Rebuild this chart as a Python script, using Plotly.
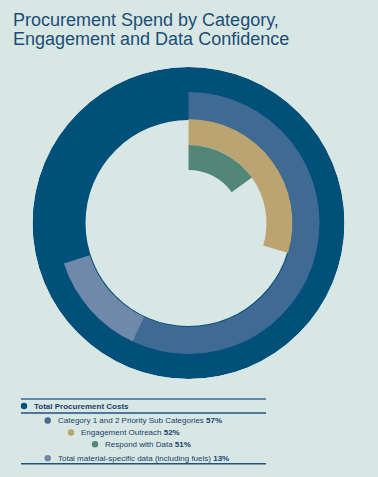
import plotly.graph_objects as go

W, H = 378, 477

# ---- data ----
total_label = "Total Procurement Costs"
total_value = 100
category_label = "Category 1 and 2 Priority Sub Categories"
category_pct = 57          # % of total
engagement_label = "Engagement Outreach"
engagement_pct = 52        # % of category
respond_label = "Respond with Data"
respond_pct = 51           # % of engagement
material_label = "Total material-specific data (including fuels)"
material_pct = 13          # % of total

# ---- styles ----
BG = "#d9e7e4"
C_TOTAL = "#01507a"
C_CAT = "#3e6a93"
C_ENG = "#bba472"
C_RESP = "#528677"
C_MAT = "#7089ab"
TXT = "#1a4e78"
LEG_TXT = "#17406a"
FONT = "Liberation Sans, Arial, sans-serif"

# derived angular spans (fractions of full circle)
cat_frac = category_pct / 100
eng_frac = cat_frac * engagement_pct / 100
resp_frac = eng_frac * respond_pct / 100
mat_frac = material_pct / 100

def deg(f):
    return f * 360

rings = [
    # label, start_frac, span_frac, base, height, color
    (total_label, 0, total_value / 100, 103, 53, C_TOTAL),
    (category_label, 0, cat_frac, 104, 27, C_CAT),
    (material_label, cat_frac, mat_frac, 104, 27, C_MAT),
    (engagement_label, 0, eng_frac, 78, 26, C_ENG),
    (respond_label, 0, resp_frac, 53, 25, C_RESP),
]

fig = go.Figure()
for name, start, span, base, h, col in rings:
    fig.add_trace(go.Barpolar(
        r=[h], base=[base], theta=[deg(start + span / 2)], width=[deg(span)],
        marker=dict(color=col, line=dict(width=0)), name=name,
        hoverinfo="name", showlegend=False,
    ))

cx, cy, R = 188.5, 223, 156
fig.update_layout(
    width=W, height=H, margin=dict(l=0, r=0, t=0, b=0),
    paper_bgcolor=BG, plot_bgcolor=BG,
    polar=dict(
        bgcolor=BG,
        domain=dict(x=[(cx - R) / W, (cx + R) / W],
                    y=[(H - cy - R) / H, (H - cy + R) / H]),
        radialaxis=dict(range=[0, R], visible=False, showgrid=False),
        angularaxis=dict(visible=False, showgrid=False, rotation=90,
                         direction="clockwise"),
        bargap=0,
    ),
    font=dict(family=FONT),
)

def px(x):
    return x / W

def py(y):
    return 1 - y / H

annotations = []
# title (two lines)
for i, line in enumerate(["Procurement Spend by Category,",
                          "Engagement and Data Confidence"]):
    annotations.append(dict(
        text=line, x=px(11), y=py(20 + 19 * i), xref="paper", yref="paper",
        xanchor="left", yanchor="middle", showarrow=False,
        font=dict(size=18, color=TXT, family=FONT)))

# legend
legend_items = [
    (f"<b>{total_label}</b>", C_TOTAL, 24, 406),
    (f"{category_label} <b>{category_pct}%</b>", C_CAT, 47.7, 420.5),
    (f"{engagement_label} <b>{engagement_pct}%</b>", C_ENG, 71, 432.5),
    (f"{respond_label} <b>{respond_pct}%</b>", C_RESP, 95, 444.3),
    (f"{material_label} <b>{material_pct}%</b>", C_MAT, 47.7, 458.3),
]
shapes = []
for text, col, mx, my in legend_items:
    r = 3.2
    shapes.append(dict(type="circle", xref="paper", yref="paper",
                       x0=px(mx - r), x1=px(mx + r), y0=py(my + r), y1=py(my - r),
                       fillcolor=col, line=dict(width=0)))
    annotations.append(dict(
        text=text, x=px(mx + 8), y=py(my), xref="paper", yref="paper",
        xanchor="left", yanchor="middle", showarrow=False,
        font=dict(size=8, color=LEG_TXT, family=FONT)))

for y, col, w in [(399, "#5d87ab", 2), (413, "#1a5580", 1.5), (463.8, "#1a5580", 1.5)]:
    shapes.append(dict(type="line", xref="paper", yref="paper",
                       x0=px(21), x1=px(266), y0=py(y), y1=py(y),
                       line=dict(color=col, width=w)))

fig.update_layout(annotations=annotations, shapes=shapes)
fig.write_html(
    "out.html",
    config={"displayModeBar": False},
    post_script="document.body.style.margin='0';document.body.style.background='%s';" % BG,
)
